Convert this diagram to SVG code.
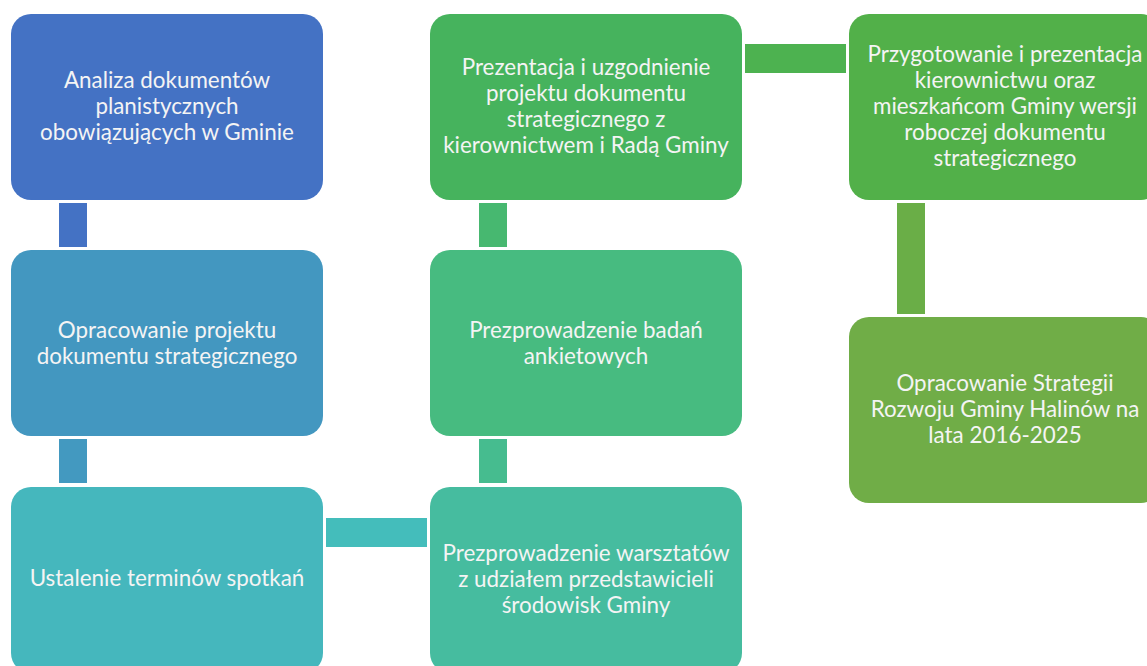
<svg xmlns="http://www.w3.org/2000/svg" width="1147" height="666" viewBox="0 0 1147 666">
<style>
.box{stroke:none}
.t{font-family:Lato,"Open Sans","Liberation Sans",sans-serif;font-size:22.4px;fill:#F4F4F4;text-anchor:middle}
</style>
<rect width="1147" height="666" fill="#FFFFFF"/>
<g id="connectors">
<rect x="59" y="203" width="28" height="44" fill="#4472C4"/>
<rect x="59" y="439" width="28" height="44" fill="#4399C0"/>
<rect x="326" y="518" width="101" height="29" fill="#44BDBB"/>
<rect x="479" y="439" width="28" height="44" fill="#46BC8F"/>
<rect x="479" y="203" width="28" height="44" fill="#47B870"/>
<rect x="745" y="44" width="101" height="29" fill="#4DB250"/>
<rect x="897" y="203" width="28" height="111" fill="#6AAE47"/>
</g>
<g id="n1"><rect class="box" x="11" y="14" width="312" height="186" rx="20" fill="#4472C4"/>
<text class="t" x="167" y="88">Analiza dokumentów</text>
<text class="t" x="167" y="114">planistycznych</text>
<text class="t" x="167" y="140">obowiązujących w Gminie</text></g>
<g id="n2"><rect class="box" x="11" y="250" width="312" height="186" rx="20" fill="#4397C0"/>
<text class="t" x="167" y="338">Opracowanie projektu</text>
<text class="t" x="167" y="364">dokumentu strategicznego</text></g>
<g id="n3"><rect class="box" x="11" y="487" width="312" height="186" rx="20" fill="#45B7BD"/>
<text class="t" x="167" y="586">Ustalenie terminów spotkań</text></g>
<g id="n4"><rect class="box" x="430" y="487" width="312" height="186" rx="20" fill="#46BC9F"/>
<text class="t" x="586" y="561">Prezprowadzenie warsztatów</text>
<text class="t" x="586" y="587">z udziałem przedstawicieli</text>
<text class="t" x="586" y="613">środowisk Gminy</text></g>
<g id="n5"><rect class="box" x="430" y="250" width="312" height="186" rx="20" fill="#47BB80"/>
<text class="t" x="586" y="338">Prezprowadzenie badań</text>
<text class="t" x="586" y="364">ankietowych</text></g>
<g id="n6"><rect class="box" x="430" y="14" width="312" height="186" rx="20" fill="#46B35D"/>
<text class="t" x="586" y="75">Prezentacja i uzgodnienie</text>
<text class="t" x="586" y="101">projektu dokumentu</text>
<text class="t" x="586" y="127">strategicznego z</text>
<text class="t" x="586" y="153">kierownictwem i Radą Gminy</text></g>
<g id="n7"><rect class="box" x="849" y="14" width="312" height="186" rx="20" fill="#52B049"/>
<text class="t" x="1005" y="62">Przygotowanie i prezentacja</text>
<text class="t" x="1005" y="88">kierownictwu oraz</text>
<text class="t" x="1005" y="114">mieszkańcom Gminy wersji</text>
<text class="t" x="1005" y="140">roboczej dokumentu</text>
<text class="t" x="1005" y="166">strategicznego</text></g>
<g id="n8"><rect class="box" x="849" y="317" width="312" height="186" rx="20" fill="#70AD47"/>
<text class="t" x="1005" y="391">Opracowanie Strategii</text>
<text class="t" x="1005" y="417">Rozwoju Gminy Halinów na</text>
<text class="t" x="1005" y="443">lata 2016-2025</text></g>
</svg>
